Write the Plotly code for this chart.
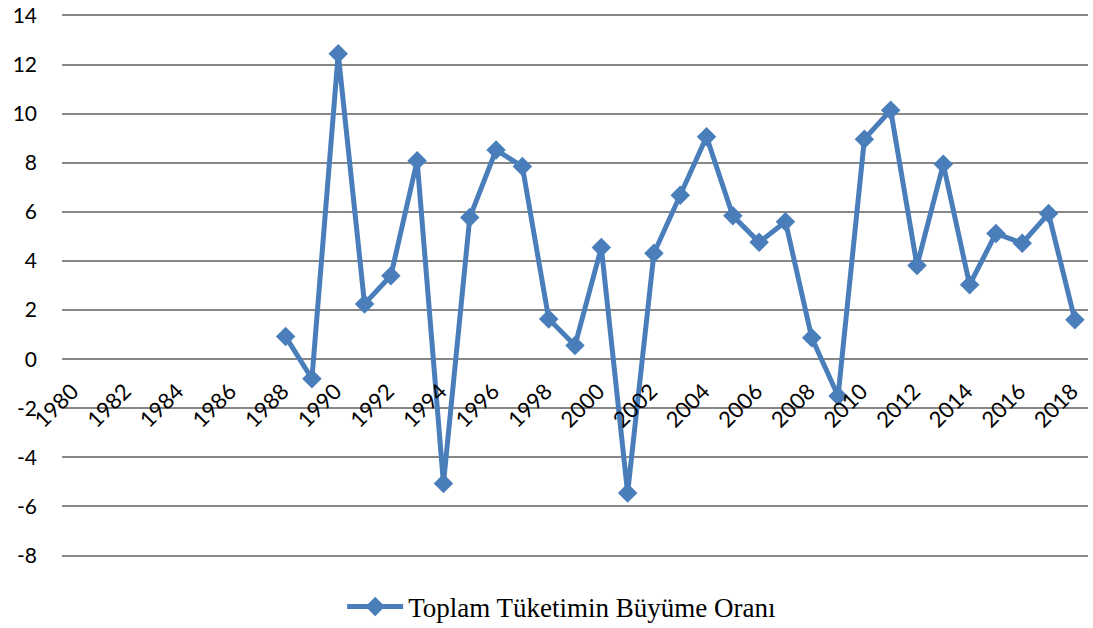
import plotly.graph_objects as go

years = list(range(1988, 2019))
values = [0.92, -0.80, 12.44, 2.25, 3.40, 8.08, -5.07, 5.77, 8.52, 7.85,
          1.64, 0.56, 4.55, -5.45, 4.31, 6.68, 9.06, 5.84, 4.76, 5.60,
          0.87, -1.50, 8.96, 10.14, 3.81, 7.94, 3.03, 5.12, 4.72, 5.93, 1.60]
tick_years = list(range(1980, 2019, 2))
y_ticks = list(range(-8, 15, 2))
series_name = "Toplam Tüketimin Büyüme Oranı"

fig = go.Figure()
fig.add_trace(go.Scatter(
    x=years, y=values, mode="lines+markers", name=series_name,
    line=dict(color="#4A7EBB", width=5),
    marker=dict(symbol="diamond", size=15, color="#4A7EBB"),
))

y_lo, y_hi = -8.1, 14.1
fig.update_layout(
    width=1093, height=628,
    margin=dict(l=62, r=5, t=13, b=70, autoexpand=False),
    plot_bgcolor="white", paper_bgcolor="white",
    showlegend=True,
    legend=dict(orientation="h", x=0.487, xanchor="center", y=-0.09, yanchor="middle",
                itemwidth=56,
                font=dict(family="Liberation Serif", size=27, color="black")),
    xaxis=dict(range=[1979.5, 2018.5], tickvals=tick_years,
               ticktext=[str(t) for t in tick_years], tickangle=-45,
               anchor="free", position=(0 - y_lo) / (y_hi - y_lo),
               showgrid=False, zeroline=False,
               showline=False, ticks="", automargin=False,
               ticklabelstandoff=14, ticklabelshift=-3,
               ticklabeloverflow="allow",
               tickfont=dict(family="Lato", size=22, color="black")),
    yaxis=dict(range=[y_lo, y_hi], tickvals=y_ticks,
               ticktext=[str(v) for v in y_ticks], showgrid=True,
               gridcolor="#878787", gridwidth=2, zeroline=False, showline=False,
               ticklabelstandoff=24, automargin=False,
               ticklabeloverflow="allow",
               tickfont=dict(family="Lato", size=21, color="black")),
)

fig.write_html("out.html", config={"displayModeBar": False},
               post_script="document.body.style.margin='0';")
